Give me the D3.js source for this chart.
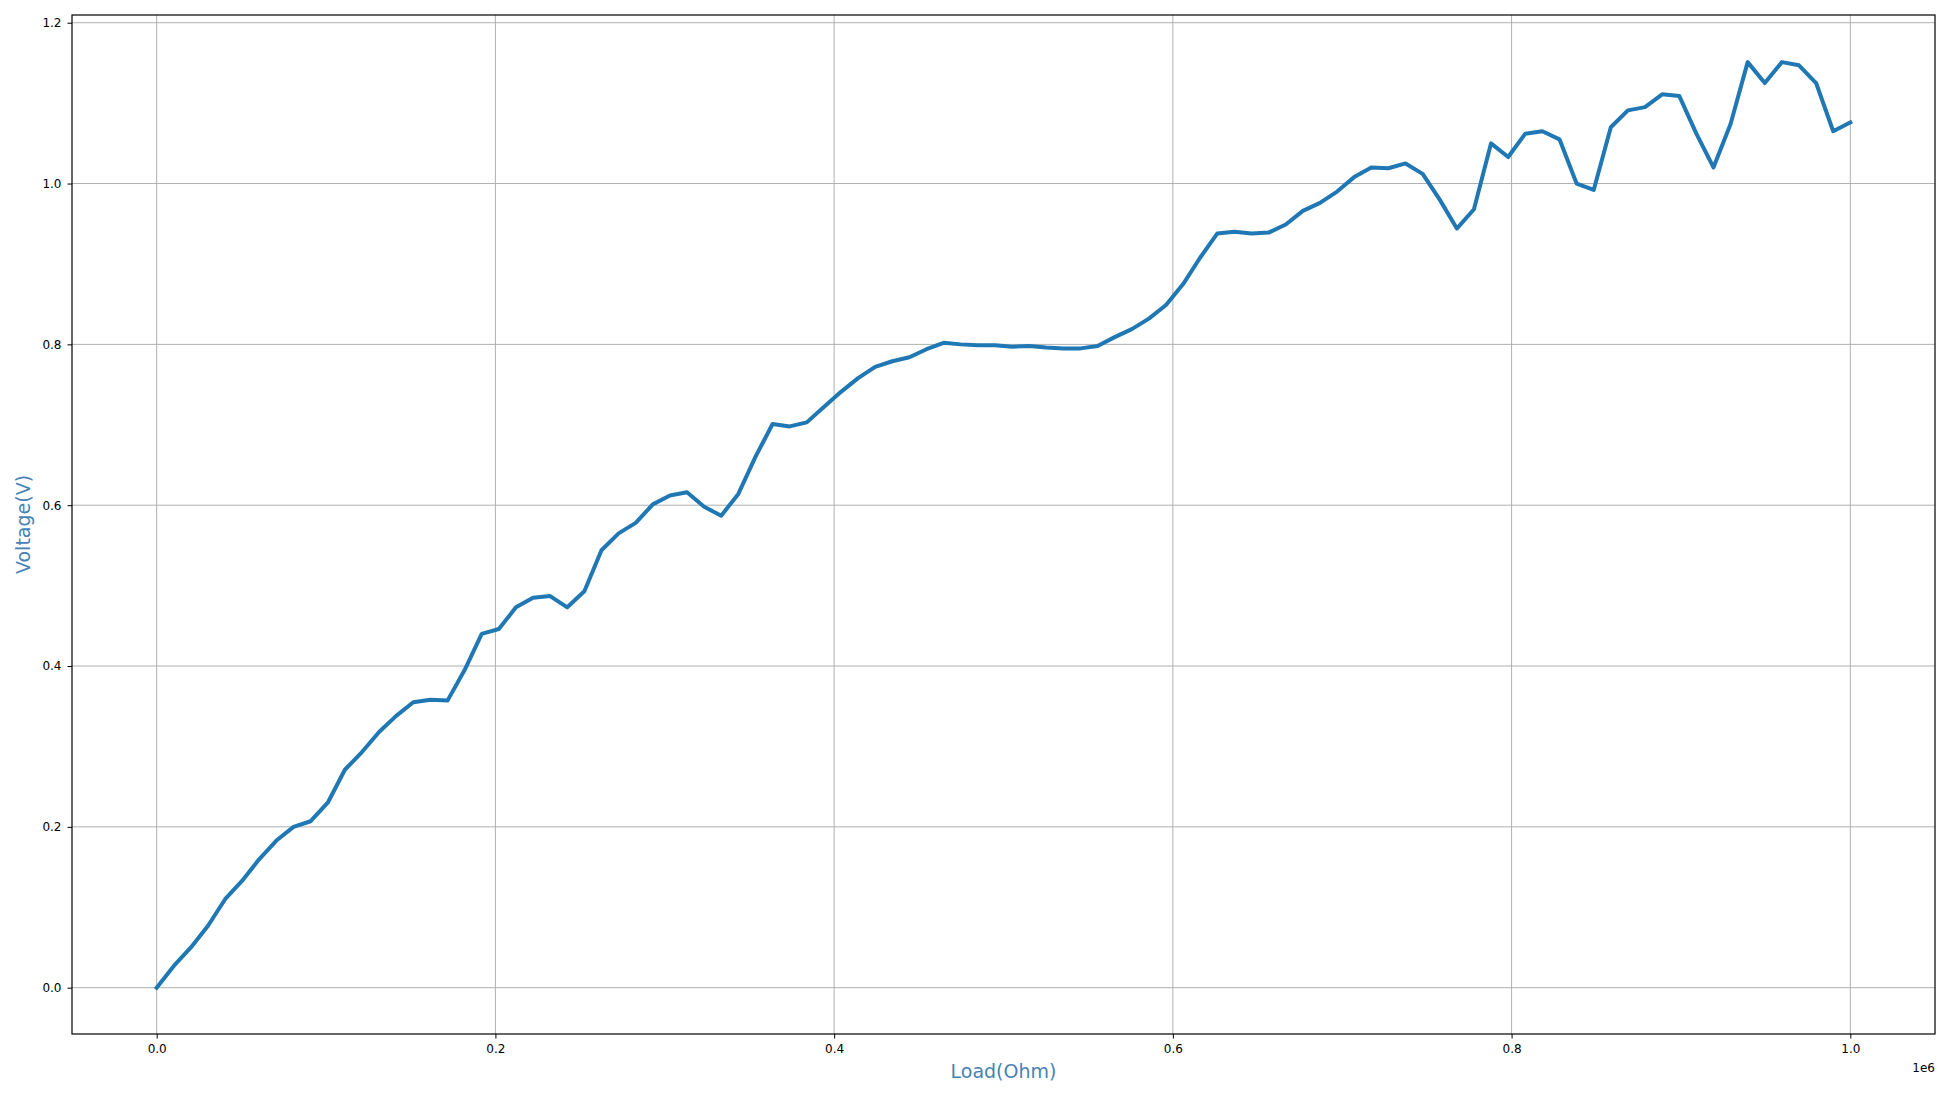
<!DOCTYPE html>
<html><head><meta charset="utf-8">
<script src="https://cdn.jsdelivr.net/npm/d3@7"></script>
<style>body{margin:0;background:#fff}svg{display:block}</style>
</head><body>
<script>
const voltage = [0.00,0.027,0.05,0.077,0.11,0.133,0.16,0.183,0.20,0.207,
0.23,0.271,0.293,0.318,0.338,0.355,0.358,0.357,0.395,0.44,
0.446,0.473,0.485,0.487,0.473,0.493,0.544,0.565,0.578,0.601,
0.612,0.616,0.598,0.587,0.614,0.66,0.701,0.698,0.703,0.722,
0.741,0.758,0.772,0.779,0.784,0.794,0.802,0.80,0.799,0.799,
0.797,0.798,0.796,0.795,0.795,0.798,0.809,0.819,0.832,0.849,
0.875,0.908,0.938,0.94,0.938,0.939,0.949,0.966,0.976,0.99,
1.008,1.02,1.019,1.025,1.012,0.98,0.944,0.968,1.05,1.033,
1.062,1.065,1.055,1.0,0.992,1.07,1.091,1.095,1.111,1.109,
1.062,1.02,1.074,1.151,1.125,1.151,1.147,1.125,1.065,1.076];
const load = voltage.map((v, i) => i * 1e6 / (voltage.length - 1));
const xTicks = [0, 0.2, 0.4, 0.6, 0.8, 1.0];
const yTicks = [0.0, 0.2, 0.4, 0.6, 0.8, 1.0, 1.2];

const W = 1950, H = 1096;
const m = {l: 72, t: 15, r: 1935, b: 1034};
const svg = d3.select('body').append('svg').attr('width', W).attr('height', H);
const x = d3.scaleLinear().domain([-0.05, 1.05]).range([m.l, m.r]);
const y = d3.scaleLinear().domain([-0.0576, 1.2096]).range([m.b, m.t]);
const font = 'DejaVu Sans, sans-serif';

// grid
svg.append('g').selectAll('line').data(xTicks).join('line')
    .attr('x1', d => x(d)).attr('x2', d => x(d)).attr('y1', m.t).attr('y2', m.b)
    .attr('stroke', '#b0b0b0').attr('stroke-width', 1);
svg.append('g').selectAll('line').data(yTicks).join('line')
    .attr('y1', d => y(d)).attr('y2', d => y(d)).attr('x1', m.l).attr('x2', m.r)
    .attr('stroke', '#b0b0b0').attr('stroke-width', 1);

// axes
const xa = svg.append('g').attr('transform', `translate(0,${m.b})`)
    .call(d3.axisBottom(x).tickValues(xTicks).tickFormat(d3.format('.1f')).tickSize(4.5).tickPadding(6));
const ya = svg.append('g').attr('transform', `translate(${m.l},0)`)
    .call(d3.axisLeft(y).tickValues(yTicks).tickFormat(d3.format('.1f')).tickSize(4.5).tickPadding(6));
[xa, ya].forEach(a => {
    a.select('.domain').remove();
    a.selectAll('text').attr('font-family', font).attr('font-size', 12).attr('fill', '#000');
    a.selectAll('line').attr('stroke', '#000');
});

// line
const line = d3.line().x((d, i) => x(load[i] / 1e6)).y(d => y(d));
svg.append('path').datum(voltage).attr('d', line)
    .attr('fill', 'none').attr('stroke', '#1f77b4').attr('stroke-width', 4)
    .attr('stroke-linejoin', 'round').attr('stroke-linecap', 'square');

svg.append('rect').attr('x', m.l).attr('y', m.t).attr('width', m.r - m.l).attr('height', m.b - m.t)
    .attr('fill', 'none').attr('stroke', '#000').attr('stroke-width', 1.2);

svg.append('text').attr('x', m.r).attr('y', m.b + 38).attr('text-anchor', 'end')
    .attr('font-family', font).attr('font-size', 12).text('1e6');
svg.append('text').attr('x', (m.l + m.r) / 2).attr('y', 1078).attr('text-anchor', 'middle')
    .attr('font-family', font).attr('font-size', 19).attr('fill', '#4682b4').text('Load(Ohm)');
svg.append('text').attr('transform', `translate(30,${(m.t + m.b) / 2}) rotate(-90)`)
    .attr('text-anchor', 'middle').attr('font-family', font).attr('font-size', 19)
    .attr('fill', '#4682b4').text('Voltage(V)');
</script>
</body></html>
